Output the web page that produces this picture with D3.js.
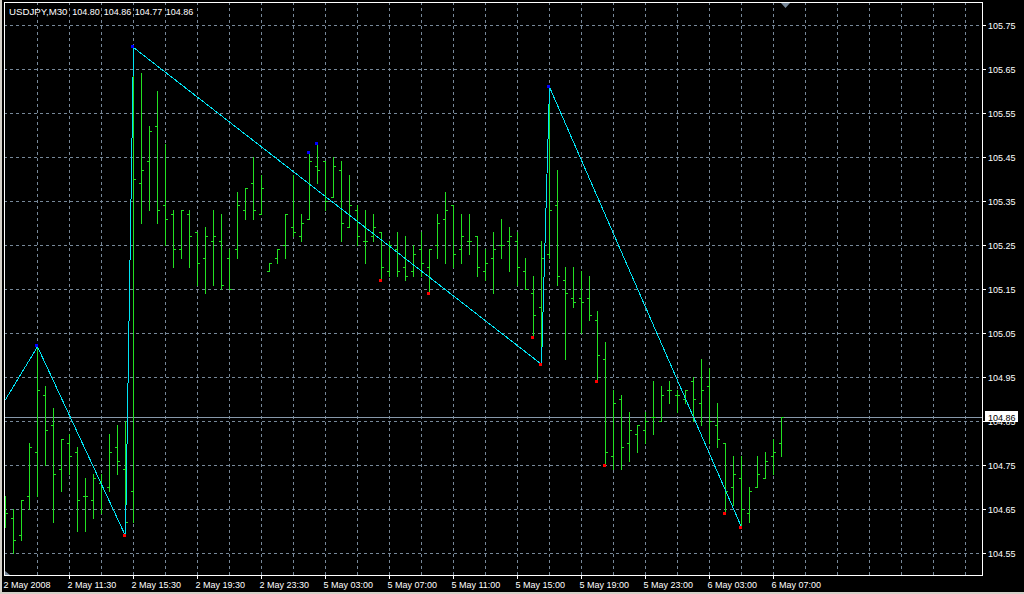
<!DOCTYPE html>
<html><head><meta charset="utf-8">
<script src="https://cdn.jsdelivr.net/npm/d3@7"></script>
<style>html,body{margin:0;padding:0;background:#000;overflow:hidden}svg{display:block}</style>
</head><body>
<svg id="chart" width="1024" height="594"></svg>
<script>
// ---------- DATA ----------
const symbolTitle = "USDJPY,M30";
const lastOHLC = ["104.80", "104.86", "104.77", "104.86"];

const opens = [104.67,104.63,104.59,104.68,104.78,104.91,104.84,104.74,104.80,104.78,
104.68,104.67,104.71,104.70,104.79,104.74,104.69,105.39,105.44,105.52,
105.34,105.32,105.24,105.32,105.28,105.22,105.26,105.26,105.22,105.24,
105.33,105.39,105.32,105.19,105.22,105.25,105.29,105.27,105.31,105.43,
105.44,105.36,105.42,105.29,105.33,105.26,105.27,105.28,105.19,105.24,
105.20,105.19,105.24,105.20,105.25,105.31,105.34,105.24,105.26,105.27,
105.19,105.22,105.25,105.26,105.26,105.19,105.14,105.11,105.23,105.34,
105.17,105.13,105.13,105.13,105.08,104.99,104.77,104.90,104.80,104.82,
104.83,104.86,104.85,104.92,104.91,104.90,104.94,104.89,104.93,104.84,
104.80,104.70,104.72,104.64,104.70,104.72,104.77,104.80];
const highs = [104.68,104.65,104.67,104.80,105.02,104.93,104.88,104.81,104.82,104.79,
104.72,104.73,104.73,104.82,104.84,104.85,105.70,105.64,105.52,105.60,
105.48,105.33,105.33,105.33,105.28,105.29,105.33,105.32,105.24,105.37,
105.38,105.45,105.41,105.21,105.24,105.32,105.41,105.32,105.46,105.48,
105.44,105.45,105.44,105.41,105.34,105.33,105.32,105.28,105.26,105.28,
105.27,105.25,105.28,105.24,105.32,105.37,105.34,105.32,105.32,105.27,
105.24,105.28,105.31,105.29,105.28,105.22,105.18,105.26,105.61,105.42,
105.20,105.20,105.19,105.18,105.10,105.03,104.92,104.91,104.87,104.84,
104.87,104.94,104.93,104.94,104.92,104.92,104.95,104.99,104.97,104.89,
104.80,104.77,104.77,104.70,104.77,104.78,104.81,104.86];
const lows = [104.61,104.55,104.58,104.65,104.68,104.75,104.62,104.69,104.73,104.60,
104.60,104.63,104.64,104.69,104.73,104.59,104.62,105.30,105.33,105.30,
105.25,105.20,105.22,105.20,105.16,105.14,105.16,105.15,105.15,105.22,
105.31,105.31,105.32,105.19,105.21,105.22,105.27,105.26,105.31,105.39,
105.33,105.36,105.26,105.29,105.25,105.21,105.26,105.17,105.18,105.18,
105.17,105.18,105.18,105.14,105.22,105.21,105.20,105.21,105.23,105.18,
105.17,105.14,105.22,105.19,105.16,105.15,105.04,104.98,105.22,105.16,
104.99,105.11,105.05,105.08,104.94,104.75,104.74,104.74,104.76,104.78,
104.80,104.82,104.85,104.89,104.87,104.89,104.85,104.84,104.80,104.79,
104.64,104.66,104.61,104.62,104.70,104.72,104.73,104.77];
const closes = [104.64,104.58,104.67,104.79,104.92,104.83,104.73,104.81,104.77,104.67,
104.68,104.72,104.70,104.78,104.76,104.62,105.40,105.42,105.51,105.33,
105.31,105.24,105.33,105.27,105.21,105.27,105.27,105.16,105.15,105.34,
105.38,105.33,105.38,105.21,105.24,105.32,105.28,105.30,105.44,105.42,
105.35,105.43,105.30,105.34,105.27,105.26,105.29,105.20,105.25,105.19,
105.18,105.23,105.21,105.24,105.30,105.33,105.23,105.27,105.26,105.20,
105.21,105.24,105.25,105.27,105.20,105.15,105.09,105.22,105.33,105.18,
105.14,105.12,105.12,105.09,105.00,104.78,104.89,104.79,104.83,104.84,
104.85,104.86,104.91,104.92,104.91,104.92,104.90,104.92,104.85,104.81,
104.69,104.73,104.65,104.69,104.73,104.76,104.78,104.86];

const priceTicks = [104.55,104.65,104.75,104.85,104.95,105.05,105.15,105.25,105.35,105.45,105.55,105.65,105.75];
const priceTickLabels = ["104.55","104.65","104.75","104.85","104.95","105.05","105.15","105.25","105.35","105.45","105.55","105.65","105.75"];
const timeTickIdx = [0,8,16,24,32,40,48,56,64,72,80,88,96];
const timeLabels = ["2 May 2008","2 May 11:30","2 May 15:30","2 May 19:30","2 May 23:30","5 May 03:00","5 May 07:00","5 May 11:00","5 May 15:00","5 May 19:00","5 May 23:00","6 May 03:00","6 May 07:00"];
const gridIdx = d3.range(4, 121, 4);

const zigzagIdx   = [-3, 4, 15, 16, 67, 68, 92];
const zigzagPrice = [104.81, 105.02, 104.59, 105.70, 104.98, 105.61, 104.61];
const upMarkIdx   = [4, 16, 38, 39, 68];
const downMarkIdx = [15, 47, 53, 66, 67, 74, 75, 90, 92];
const bidPrice = 104.86;
const bidLabel = "104.86";

// ---------- LAYOUT ----------
const W = 1024, H = 594;
const plotL = 4, plotT = 2, plotR = 982, plotB = 575;
const x = d3.scaleLinear().domain([0, 120]).range([5, 965]);
const y = d3.scaleLinear().domain([104.55, 105.75]).range([553, 25]);
const px = v => Math.round(v) + 0.5;
const FONT = "'Liberation Sans', Arial, sans-serif";

const bars = opens.map((o, i) => ({i, o, h: highs[i], l: lows[i], c: closes[i]}));

const svg = d3.select("#chart");
svg.append("rect").attr("width", W).attr("height", H).attr("fill", "#d4d0c8");
svg.append("rect").attr("x", 2).attr("y", 0).attr("width", W - 2).attr("height", 592).attr("fill", "#000");

svg.append("defs").append("clipPath").attr("id", "plotclip")
  .append("rect").attr("x", plotL + 1).attr("y", plotT + 1)
  .attr("width", plotR - plotL - 1).attr("height", plotB - plotT - 1);

const grid = svg.append("g").attr("shape-rendering", "crispEdges");
const GRID = "#778899";
grid.selectAll("line.h").data(priceTicks).join("line").attr("class", "h")
  .attr("x1", plotL).attr("x2", plotR)
  .attr("y1", d => px(y(d))).attr("y2", d => px(y(d)))
  .attr("stroke", GRID).attr("stroke-dasharray", "3,3");
grid.selectAll("line.v").data(gridIdx).join("line").attr("class", "v")
  .attr("x1", d => px(x(d))).attr("x2", d => px(x(d)))
  .attr("y1", plotT).attr("y2", plotB)
  .attr("stroke", GRID).attr("stroke-dasharray", "3,3");

// bid line
grid.append("line")
  .attr("x1", plotL).attr("x2", plotR)
  .attr("y1", px(y(bidPrice))).attr("y2", px(y(bidPrice)))
  .attr("stroke", "#8899aa");

// OHLC bars
const BAR = "#22e022";
const bg = svg.append("g").attr("shape-rendering", "crispEdges").attr("stroke", BAR).attr("clip-path", "url(#plotclip)");
const bar = bg.selectAll("g").data(bars).join("g");
bar.append("line")
  .attr("x1", d => px(x(d.i))).attr("x2", d => px(x(d.i)))
  .attr("y1", d => Math.round(y(d.h))).attr("y2", d => Math.round(y(d.l)) + 1);
bar.append("line")
  .attr("x1", d => Math.round(x(d.i)) - 2).attr("x2", d => Math.round(x(d.i)) + 1)
  .attr("y1", d => px(y(d.o))).attr("y2", d => px(y(d.o)));
bar.append("line")
  .attr("x1", d => Math.round(x(d.i))).attr("x2", d => Math.round(x(d.i)) + 3)
  .attr("y1", d => px(y(d.c))).attr("y2", d => px(y(d.c)));

// zigzag
const zz = zigzagIdx.map((d, k) => [x(d) + 0.5, y(zigzagPrice[k]) + 0.5]);
svg.append("path").attr("clip-path", "url(#plotclip)")
  .attr("d", d3.line()(zz))
  .attr("fill", "none").attr("stroke", "#00e4f4").attr("stroke-width", 1)
  .attr("shape-rendering", "crispEdges");

// marks
const mk = svg.append("g").attr("shape-rendering", "crispEdges");
mk.selectAll("rect.up").data(upMarkIdx).join("rect").attr("class", "up")
  .attr("x", d => Math.round(x(d)) - 2).attr("y", d => Math.round(y(highs[d])) - 2)
  .attr("width", 3).attr("height", 3).attr("fill", "#0000ff");
mk.selectAll("rect.dn").data(downMarkIdx).join("rect").attr("class", "dn")
  .attr("x", d => Math.round(x(d)) - 2).attr("y", d => Math.round(y(lows[d])) - 1)
  .attr("width", 3).attr("height", 3).attr("fill", "#ff0000");

// frame
const fr = svg.append("g").attr("shape-rendering", "crispEdges");
fr.append("rect").attr("x", plotL + 0.5).attr("y", plotT + 0.5)
  .attr("width", plotR - plotL).attr("height", plotB - plotT)
  .attr("fill", "none").attr("stroke", "#fff");

// price axis
const pa = svg.append("g");
pa.selectAll("line").data(priceTicks).join("line")
  .attr("x1", plotR).attr("x2", plotR + 4)
  .attr("y1", d => px(y(d))).attr("y2", d => px(y(d)))
  .attr("stroke", "#fff").attr("shape-rendering", "crispEdges");
pa.selectAll("text").data(priceTicks).join("text")
  .attr("x", plotR + 6).attr("y", d => y(d) + 3.5)
  .attr("fill", "#fff").attr("font-family", FONT).attr("font-size", 9)
  .text((d, k) => priceTickLabels[k]);

// bid label box
const by = Math.round(y(bidPrice));
svg.append("rect").attr("x", 985).attr("y", by - 6).attr("width", 33).attr("height", 11)
  .attr("fill", "#fff").attr("shape-rendering", "crispEdges");
svg.append("text").attr("x", plotR + 6).attr("y", by + 3.5)
  .attr("fill", "#000").attr("font-family", FONT).attr("font-size", 9).text(bidLabel);

// time axis
const ta = svg.append("g");
ta.selectAll("line").data(timeTickIdx.filter(d => d > 0)).join("line")
  .attr("x1", d => px(x(d))).attr("x2", d => px(x(d)))
  .attr("y1", plotB).attr("y2", plotB + 4)
  .attr("stroke", "#fff").attr("shape-rendering", "crispEdges");
ta.selectAll("text").data(timeTickIdx).join("text")
  .attr("x", d => x(d) - 1.5).attr("y", 587.5)
  .attr("fill", "#fff").attr("font-family", FONT).attr("font-size", 9)
  .text((d, k) => timeLabels[k]);

// shift marker and corner marker
svg.append("path").attr("d", "M781,3 L790,3 L785.5,8 Z").attr("fill", "#778899");
svg.append("path").attr("d", "M5,571 L5,575 L10,575 Z").attr("fill", "#778899");

// title
const tt = svg.append("g").attr("fill", "#fff").attr("font-family", FONT).attr("font-size", 9);
tt.append("text").attr("x", 9).attr("y", 14.5).attr("font-size", 9.7).text(symbolTitle);
const titleX = [72.3, 103.7, 134.7, 165.7];
lastOHLC.forEach((v, k) => tt.append("text").attr("x", titleX[k]).attr("y", 14.5).text(v));
</script>
</body></html>
